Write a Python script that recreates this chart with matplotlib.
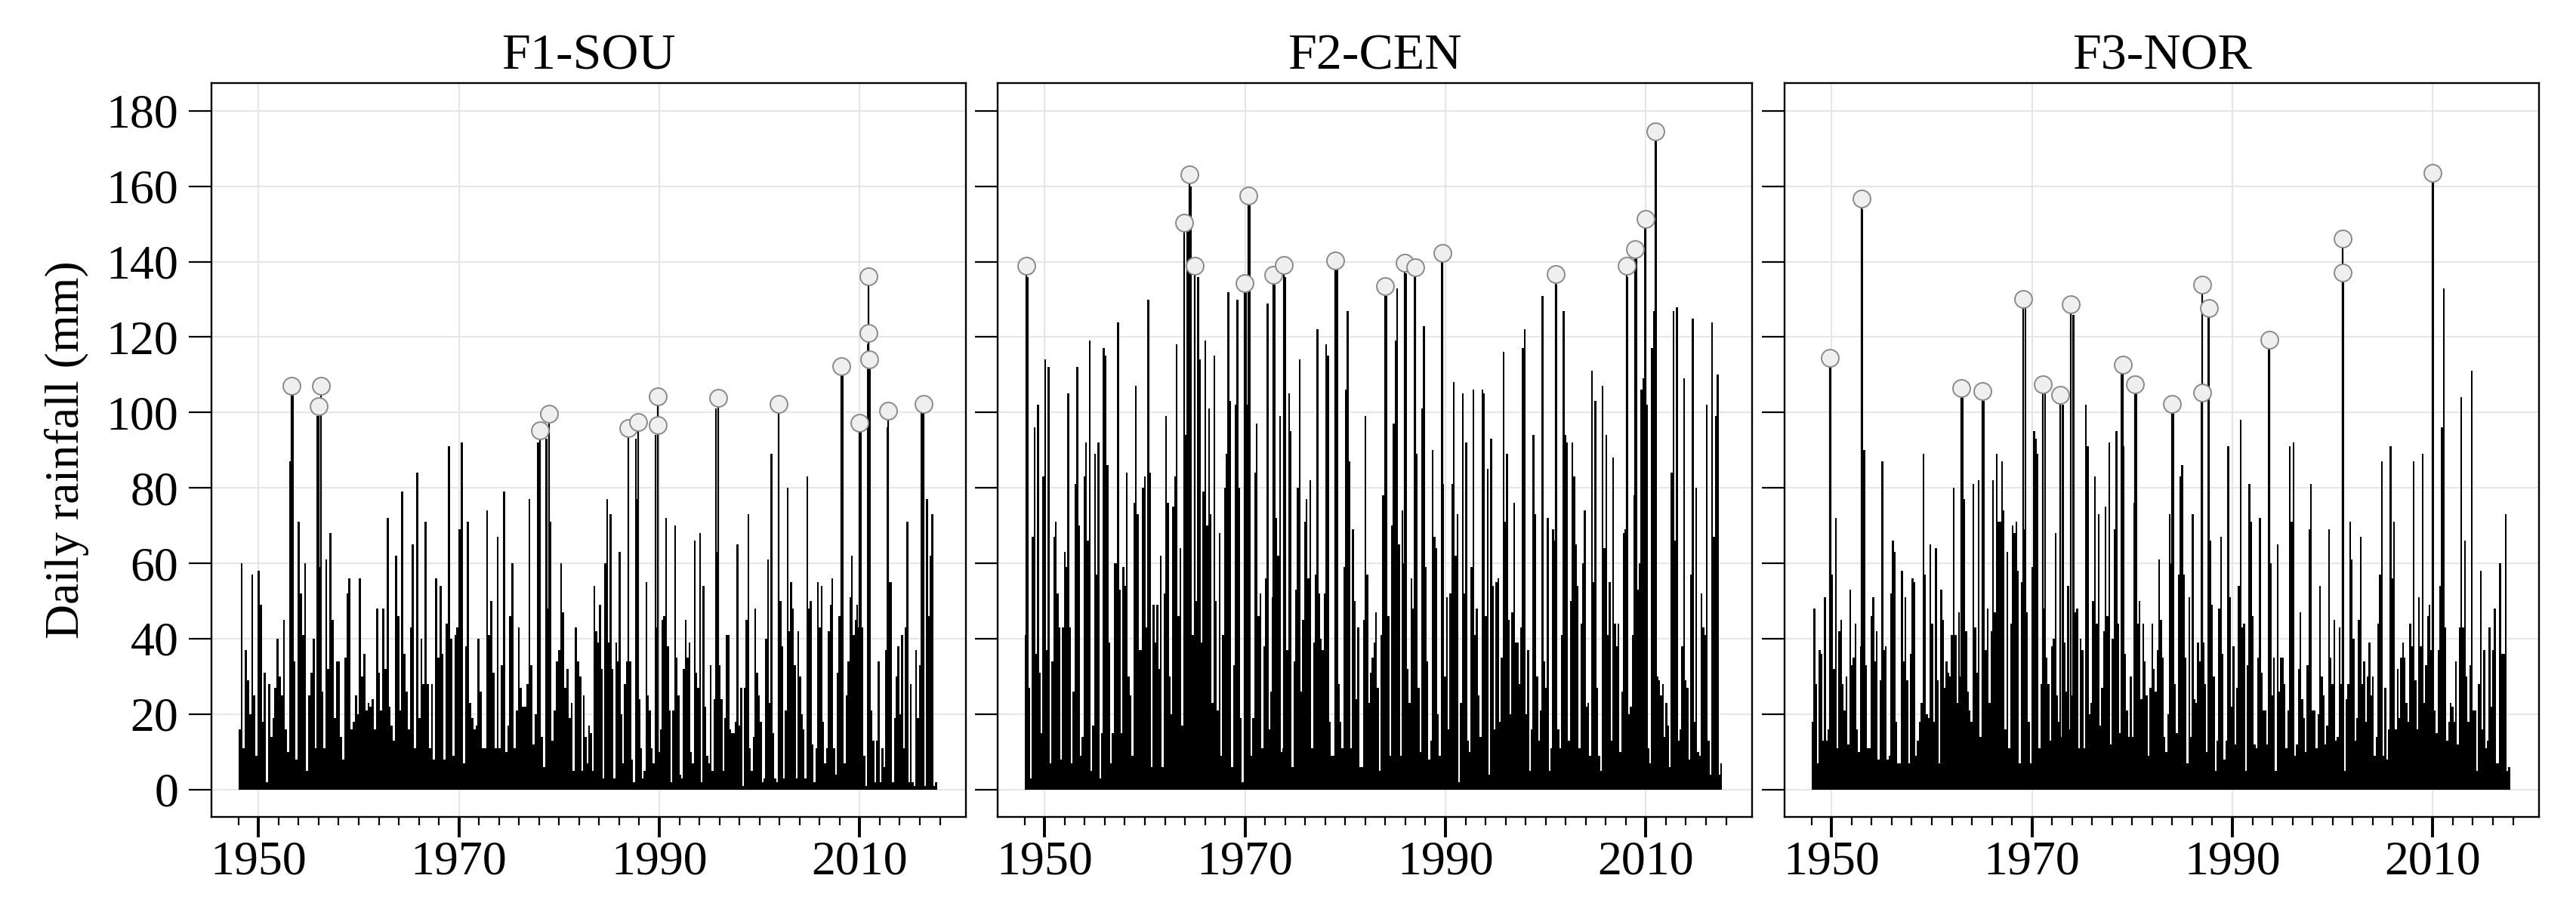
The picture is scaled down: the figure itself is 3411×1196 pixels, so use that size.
import numpy as np
import matplotlib
matplotlib.use("Agg")
import matplotlib.pyplot as plt

plt.rcParams['font.family'] = ['Liberation Serif', 'DejaVu Serif']

# ---------------- data ----------------
panel_titles = ["F1-SOU", "F2-CEN", "F3-NOR"]

# Envelope of daily rainfall (mm), ~bimonthly maxima, two time segments per panel
p1_span_a = (1948.0, 1982.2)
p1_mm_a = [16,60,11,37,29,20,57,25,9,58,49,18,31,2,28,14,19,27,40,30,25,45,16,10,87,105,34,8,71,52,41,60,5,25,31,40,11,99,59,26,11,61,32,68,45,19,34,34,14,8,35,52,56,16,18,25,20,56,30,36,21,23,22,24,16,48,31,21,48,32,72,22,17,13,62,46,21,79,36,26,16,43,65,11,84,19,40,28,71,28,11,28,8,56,35,54,36,8,44,91,40,9,41,43,69,92,7,38,71,23,19,16,17,40,26,11,11,74,41,50,31,11,67,11,33,79,10,17,46,60,11,21,43,27,22,22,28,77,33,12,20,92,55,14,6,93,48,71,13,21,34,37,60,47,27,32,19,23,5,43,34,30]
p1_span_b = (1982.2, 2017.7)
p1_mm_b = [5,25,14,7,17,15,5,54,42,39,49,32,3,60,77,39,73,32,3,39,34,63,20,7,28,34,96,34,8,2,93,77,24,11,3,5,55,25,21,11,7,94,43,10,16,45,46,72,38,21,2,21,70,35,25,4,3,32,45,35,39,10,7,66,31,27,68,2,54,22,9,7,33,5,24,101,63,33,24,5,19,41,41,16,15,15,18,65,17,27,1,27,45,73,11,5,14,48,31,25,18,2,3,40,61,23,89,15,3,2,100,50,38,3,21,80,42,55,48,33,3,42,30,20,16,3,83,48,50,12,2,11,55,43,54,18,7,11,42,49,56,11,4,31,46,39,110,7,25,34,51,62,41,45,49,43,95,43,9,1,118,112,21,13,2,13,34,2,11,6,37,96,55,55,2,19,30,38,20,41,11,43,71,2,28,2,1,37,19,33,100,11,1,77,46,62,73,1,2]

p2_span_a = (1948.0, 1982.1)
p2_mm_a = [41,136,27,3,67,96,36,102,31,15,83,114,37,112,7,34,67,71,52,43,8,43,63,59,105,43,7,26,81,112,70,9,14,83,92,66,119,5,17,89,57,92,3,15,117,115,86,39,7,15,60,60,124,53,15,59,54,84,30,25,9,76,107,73,37,37,80,83,43,130,84,6,49,39,49,32,62,6,52,99,76,30,20,75,83,118,46,64,17,11,94,148,66,160,41,95,50,136,114,39,79,119,70,101,73,23,115,50,21,68,9,41,80,89,132,103,6,33,102,130,80,19,2,119,132,102,155,9,19,84,97,46,52,11,38,56,129,16,26,51,134,72,62,99,10,11,136,37,105,95,6,34,53,80,114,26,45,71,77,56,82,11,39,57,122,52,40,37,52,118,115,18,9,9,132,138,28,18,11,59,106,127,87,11,69,50,24,43,6,6,45,99]
p2_span_b = (1982.1, 2017.6)
p2_mm_b = [57,23,31,35,39,47,27,5,41,78,81,131,46,9,70,97,119,133,65,9,74,60,137,32,23,56,48,136,89,27,10,101,123,59,34,8,13,90,67,64,20,9,140,81,30,51,16,52,81,108,62,73,2,23,105,52,92,13,10,59,106,41,48,25,14,106,105,46,85,4,93,54,16,55,56,18,35,116,71,89,45,20,47,76,39,39,28,43,117,122,20,37,5,16,94,73,30,13,21,131,34,27,72,5,11,69,66,134,16,11,41,127,94,92,13,50,92,83,65,54,11,44,60,74,22,23,9,111,55,103,27,9,5,107,64,94,41,55,13,88,44,38,44,10,26,68,69,136,20,22,41,78,141,53,60,106,109,149,102,11,7,117,127,172,30,29,25,28,14,23,17,6,84,127,66,128,13,16,38,109,29,27,8,57,125,18,80,10,9,52,43,41,102,13,4,124,67,99,110,4,7]

p3_span_a = (1948.0, 1981.9)
p3_mm_a = [18,48,28,7,37,36,13,51,13,16,112,57,32,72,11,42,45,28,21,30,12,53,33,35,44,16,10,38,154,90,33,11,11,46,51,34,42,8,29,87,37,38,8,9,52,66,63,18,7,7,58,34,51,29,7,36,56,55,9,13,18,23,89,57,20,19,65,44,18,64,29,7,53,45,27,34,31,30,41,80,41,23,47,30,104,77,42,26,21,18,81,43,31,82,14,45,103,37,48,23,42,82,47,89,71,71,87,74,16,63,11,44,70,68,71,58,7,55,69,128,47,18,7,59,95,93,89,11,28,48,105,35,28,13,38,40,68,25,18,14,102,39,26,54,16,25,126,47,48,11,40,37,11,102,91,20,23,50,83,44,73,17,27,42,75,46,92,12,40,69,95,44,15,112,91,36,21,14,30,14,76,108,44,50,24,44,34,25,9,27]
p3_span_b = (1981.9, 2017.7)
p3_mm_b = [44,32,26,37,61,45,35,14,10,20,73,60,100,28,15,57,83,86,57,35,7,51,14,73,24,23,39,34,105,39,28,10,128,66,49,30,5,13,48,67,36,8,13,91,51,22,38,12,27,54,98,43,44,5,33,81,71,46,12,11,35,72,31,21,21,12,117,60,25,35,5,65,26,35,35,28,11,21,91,71,92,9,12,32,47,24,19,10,33,69,81,21,21,11,20,54,30,25,12,17,69,35,28,45,13,14,43,28,137,5,24,28,71,61,40,13,19,45,67,28,34,18,30,39,25,30,9,14,44,57,87,9,27,8,16,91,56,71,16,32,19,35,39,35,23,18,44,38,87,29,16,51,38,89,23,33,46,49,37,161,21,15,37,54,96,133,43,13,18,23,22,18,34,12,43,104,43,66,30,18,33,111,21,21,5,28,58,16,37,11,13,43,22,37,48,7,7,60,36,36,73,5,6]

# Marked extreme events (decimal year, mm)
p1_peak_year = [1953.3, 1956.0, 1956.2, 1978.1, 1979.0, 1986.9, 1987.9, 1989.85, 1989.85, 1995.85, 2001.9, 2008.2, 2009.95, 2010.9, 2010.9, 2010.95, 2012.8, 2016.35]
p1_peak_mm = [107.1, 101.7, 107.1, 95.3, 99.6, 95.8, 97.5, 104.2, 96.6, 103.9, 102.2, 112.2, 97.3, 136.2, 121.1, 114.0, 100.4, 102.2]
p2_peak_year = [1948.2, 1963.94, 1964.47, 1965.0, 1969.97, 1970.33, 1972.8, 1973.9, 1979.0, 1983.99, 1985.9, 1987.0, 1989.67, 2000.98, 2008.07, 2008.95, 2010.0, 2010.93]
p2_peak_mm = [139.0, 150.3, 163.1, 139.0, 134.3, 157.5, 136.6, 139.1, 140.3, 133.5, 139.7, 138.5, 142.3, 136.7, 138.9, 143.3, 151.3, 174.5]
p3_peak_year = [1949.8, 1952.99, 1962.93, 1965.04, 1969.09, 1971.06, 1972.82, 1973.9, 1979.05, 1980.3, 1983.96, 1986.98, 1986.98, 1987.66, 1993.7, 2000.99, 2000.99, 2010.0]
p3_peak_mm = [114.4, 156.8, 106.5, 105.6, 130.2, 107.4, 104.6, 128.7, 112.6, 107.4, 102.2, 133.9, 105.2, 127.8, 119.2, 146.1, 137.1, 163.6]

y_ticks = [0, 20, 40, 60, 80, 100, 120, 140, 160, 180]
x_major = [1950, 1970, 1990, 2010]
x_minor = list(range(1948, 2019, 2))

panels = [
    (panel_titles[0], [(p1_span_a, p1_mm_a), (p1_span_b, p1_mm_b)], p1_peak_year, p1_peak_mm),
    (panel_titles[1], [(p2_span_a, p2_mm_a), (p2_span_b, p2_mm_b)], p2_peak_year, p2_peak_mm),
    (panel_titles[2], [(p3_span_a, p3_mm_a), (p3_span_b, p3_mm_b)], p3_peak_year, p3_peak_mm),
]

# ---------------- figure ----------------
W, H = 3411, 1196
fig = plt.figure(figsize=(W / 100, H / 100), dpi=100)
fig.patch.set_facecolor("white")

lefts_px = [280, 1321, 2363]
ax_w_px = 999
ax_top_px, ax_bot_px = 110, 1082

for i, (title, segs, pk_y, pk_mm) in enumerate(panels):
    ax = fig.add_axes([lefts_px[i] / W, 1 - ax_bot_px / H,
                       ax_w_px / W, (ax_bot_px - ax_top_px) / H])
    ax.set_axisbelow(True)
    for (t0, t1), vals in segs:
        edges = np.linspace(t0, t1, len(vals) + 1)
        ax.stairs(vals, edges, fill=True, color="black", linewidth=0,
                  antialiased=False, zorder=2)
    ax.vlines(pk_y, 0, pk_mm, color="black", linewidth=1.6, zorder=3)
    ax.plot(pk_y, pk_mm, linestyle="none", marker="o", markersize=16.5,
            markerfacecolor="#efefef", markeredgecolor="#8a8a8a",
            markeredgewidth=1.4, zorder=4)

    ax.set_xlim(1945.3, 2020.6)
    ax.set_ylim(-7.3, 187.4)
    ax.set_xticks(x_major)
    ax.set_xticks(x_minor, minor=True)
    ax.set_yticks(y_ticks)
    ax.grid(True, which="major", color="#e6e6e6", linewidth=1.5)
    ax.grid(False, which="minor")

    ax.tick_params(axis="x", which="major", length=19.5, width=2.8,
                   labelsize=46, pad=3, direction="out")
    ax.tick_params(axis="x", which="minor", length=8, width=1.6, direction="out")
    ax.tick_params(axis="y", which="major", length=21.5, width=1.6,
                   labelsize=46, pad=10, direction="out")
    if i > 0:
        ax.tick_params(axis="y", labelleft=False)
    for s in ax.spines.values():
        s.set_linewidth(1.7)
        s.set_color("black")

    ax.set_title(title, fontsize=49, pad=13.5)

    if i == 0:
        ax.set_ylabel("Daily rainfall (mm)", fontsize=46)
        ax.yaxis.set_label_coords(-0.162, 0.5)

fig.savefig("out.png", dpi=100, facecolor="white")
